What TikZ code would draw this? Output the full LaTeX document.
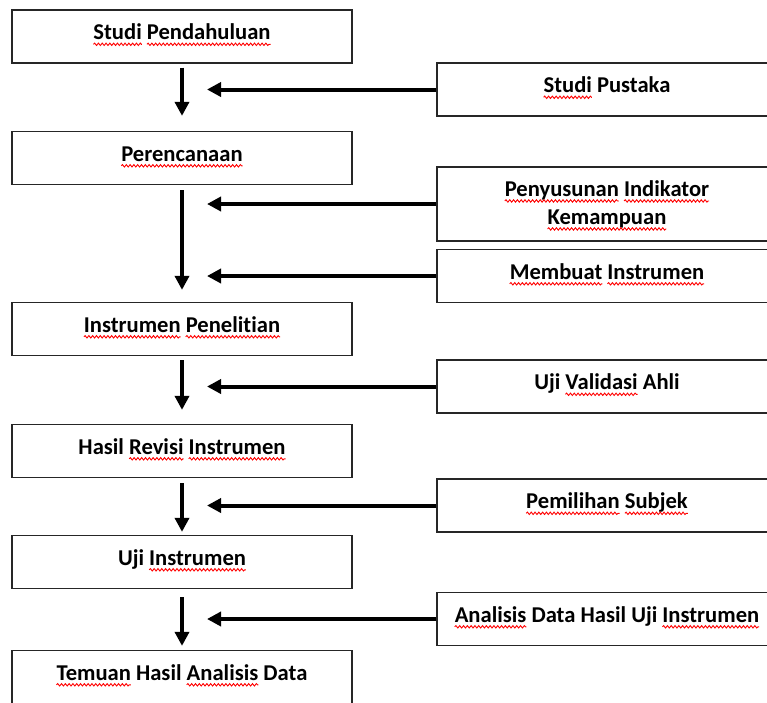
\documentclass[tikz,border=0pt]{standalone}
\usepackage{fontspec}
\setmainfont{Carlito}[Ligatures=NoCommon]
\usetikzlibrary{arrows.meta, decorations.pathmorphing}
\newcommand\salah[1]{\tikz[baseline=(w.base)]{%
    \node[inner sep=0pt, outer sep=0pt, draw=none, minimum width=0pt, minimum height=0pt,
      text height=, text depth=, align=none, anchor=base] (w) {#1};
    \draw[overlay, draw=red, line width=0.9pt, decorate,
      decoration={snake, amplitude=1.2pt, segment length=3.8pt}]
      ([yshift=-4.8pt]w.base west) -- ([yshift=-4.8pt]w.base east);}}
\begin{document}
\begin{tikzpicture}[x=1pt, y=-1pt,
    kotak/.style={draw=black!85, line width=1.3pt, minimum width=340pt, minimum height=53pt,
      inner sep=0pt, align=center, font=\bfseries\fontsize{22.6}{28}\selectfont,
      text height=15.5pt, text depth=9.5pt},
    panah/.style={line width=4pt, -{Triangle[length=14pt,width=14pt]}}]
    \useasboundingbox (0,0) rectangle (767,702);
    \clip (0,0) rectangle (767,702);
    % kolom kiri
    \node[kotak] (studi) at (182,36.5) {\salah{Studi} \salah{Pendahuluan}};
    \node[kotak] (renc) at (182,158) {\salah{Perencanaan}};
    \node[kotak] (instr) at (182,329) {\salah{Instrumen} \salah{Penelitian}};
    \node[kotak] (revisi) at (182,451) {Hasil \salah{Revisi} \salah{Instrumen}};
    \node[kotak] (uji) at (182,562) {Uji \salah{Instrumen}};
    \node[kotak] (temuan) at (182,677) {\salah{Temuan} Hasil \salah{Analisis} Data};
    % kolom kanan
    \node[kotak] (pustaka) at (607,89.5) {\salah{Studi} Pustaka};
    \node[kotak, minimum height=74pt, text height=, text depth=] (indikator) at (607,204)
        {\salah{Penyusunan} \salah{Indikator}\\\salah{Kemampuan}};
    \node[kotak] (membuat) at (607,276) {\salah{Membuat} \salah{Instrumen}};
    \node[kotak] (validasi) at (607,386.5) {Uji \salah{Validasi} Ahli};
    \node[kotak] (subjek) at (607,505.5) {\salah{Pemilihan} \salah{Subjek}};
    \node[kotak] (analisis) at (607,619) {\salah{Analisis} Data Hasil Uji \salah{Instrumen}};
    \coordinate (ujung) at (207,0);
    % panah turun
    \draw[panah, shorten <=4pt, shorten >=15pt] (studi.south) -- (renc.north);
    \draw[panah, shorten <=5pt, shorten >=12pt] (renc.south) -- (instr.north);
    \draw[panah, shorten <=4pt, shorten >=14pt] (instr.south) -- (revisi.north);
    \draw[panah, shorten <=5pt, shorten >=3pt] (revisi.south) -- (uji.north);
    \draw[panah, shorten <=8pt, shorten >=4pt] (uji.south) -- (temuan.north);
    % panah masuk
    \foreach \b in {pustaka, indikator, membuat, validasi, subjek, analisis}
        \draw[panah] (\b.west) -- (\b.west -| ujung);
\end{tikzpicture}
\end{document}
